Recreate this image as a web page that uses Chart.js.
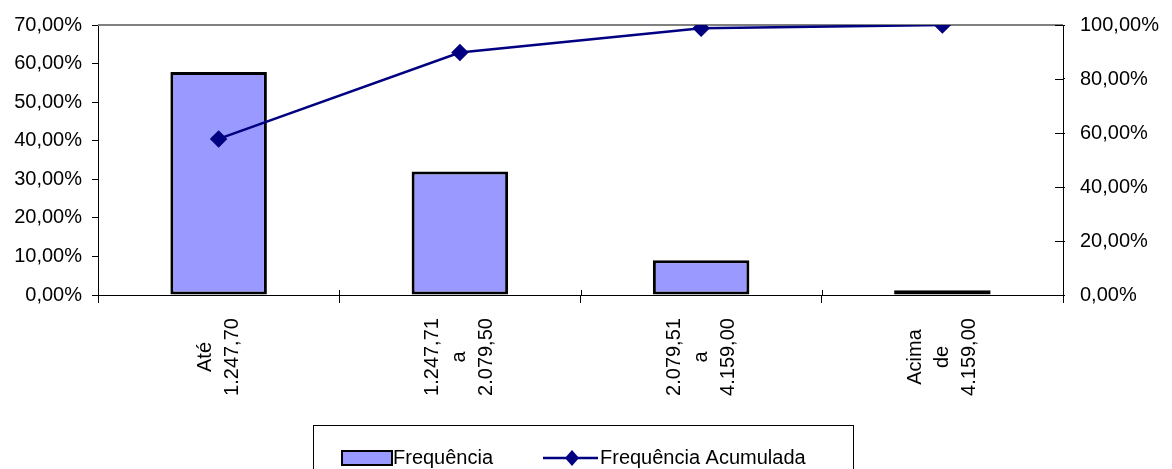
<!DOCTYPE html>
<html>
<head>
<meta charset="utf-8">
<script src="https://cdn.jsdelivr.net/npm/chart.js@4"></script>
<style>
  body { margin: 0; background: #fff; }
  canvas { display: block; }
</style>
</head>
<body>
<canvas id="paretoChart" width="1172" height="469"></canvas>
<script>
  // faixas de valor (eixo X)
  const categorias = [
    ['Até', '1.247,70'],
    ['1.247,71', 'a', '2.079,50'],
    ['2.079,51', 'a', '4.159,00'],
    ['Acima', 'de', '4.159,00']
  ];
  // frequencia relativa (%) - eixo esquerdo
  const frequencia = [57.8, 32.0, 9.0, 1.2];
  // frequencia acumulada (%) - eixo direito
  const acumulada = [57.8, 89.8, 98.8, 100];

  const FONT = '"Liberation Sans", Arial, sans-serif';
  const fmtPct = v => v.toFixed(2).replace('.', ',') + '%';

  // desenha rótulos do eixo X (rotacionados, centralizados), bordas e legenda
  const extras = {
    id: 'extras',
    beforeDatasetsDraw(chart) {
      const { ctx, chartArea: a } = chart;
      ctx.save();
      ctx.strokeStyle = '#808080';
      ctx.lineWidth = 2;
      ctx.beginPath();
      ctx.moveTo(a.left, a.top);
      ctx.lineTo(a.right, a.top);
      ctx.stroke();
      ctx.restore();
    },
    afterDraw(chart) {
      const { ctx, chartArea: a } = chart;
      const x = chart.scales.x;
      const y1 = chart.scales.y1;
      ctx.save();

      // tiques internos
      ctx.strokeStyle = '#000';
      ctx.lineWidth = 1;
      ctx.beginPath();
      for (let i = 0; i <= categorias.length; i++) {
        const px = Math.round(x.getPixelForValue(i - 0.5)) + 0.5;
        ctx.moveTo(px, a.bottom - 5);
        ctx.lineTo(px, a.bottom);
      }
      y1.ticks.forEach(t => {
        const py = Math.round(y1.getPixelForValue(t.value)) + 0.5;
        ctx.moveTo(a.right - 8, py);
        ctx.lineTo(a.right, py);
      });
      ctx.stroke();

      // rótulos das categorias
      ctx.fillStyle = '#000';
      ctx.font = '20px ' + FONT;
      ctx.textAlign = 'center';
      ctx.textBaseline = 'middle';
      const lh = 27;
      categorias.forEach((linhas, i) => {
        const cx = x.getPixelForValue(i);
        const n = linhas.length;
        linhas.forEach((t, j) => {
          const lx = cx + (j - (n - 1) / 2) * lh;
          ctx.save();
          ctx.translate(lx, 357);
          ctx.rotate(-Math.PI / 2);
          ctx.fillText(t, 0, 0);
          ctx.restore();
        });
      });

      // legenda
      const barras = chart.data.datasets.find(d => d.type !== 'line');
      const linha = chart.data.datasets.find(d => d.type === 'line');
      ctx.strokeStyle = '#000';
      ctx.lineWidth = 1;
      ctx.strokeRect(313.5, 425.5, 540, 60);
      const ly = 458;
      ctx.fillStyle = '#9999ff';
      ctx.fillRect(342, 451, 50, 14);
      ctx.lineWidth = 2;
      ctx.strokeRect(342, 451, 50, 14);
      ctx.fillStyle = '#000';
      ctx.textAlign = 'left';
      ctx.fillText(barras.label, 393, ly);

      ctx.strokeStyle = '#000080';
      ctx.lineWidth = 2.5;
      ctx.beginPath();
      ctx.moveTo(543, ly);
      ctx.lineTo(598, ly);
      ctx.stroke();
      ctx.fillStyle = '#000080';
      ctx.beginPath();
      ctx.moveTo(572, ly - 8);
      ctx.lineTo(579, ly);
      ctx.lineTo(572, ly + 8);
      ctx.lineTo(565, ly);
      ctx.closePath();
      ctx.fill();
      ctx.fillStyle = '#000';
      ctx.fillText(linha.label, 600, ly);
      ctx.restore();
    }
  };

  new Chart(document.getElementById('paretoChart'), {
    type: 'bar',
    data: {
      labels: categorias,
      datasets: [
        {
          type: 'line',
          label: 'Frequência Acumulada',
          data: acumulada,
          yAxisID: 'y1',
          borderColor: '#000080',
          backgroundColor: '#000080',
          borderWidth: 2.5,
          pointStyle: 'rectRot',
          pointRadius: 7,
          pointHoverRadius: 7,
          tension: 0,
          order: 0
        },
        {
          type: 'bar',
          label: 'Frequência',
          data: frequencia,
          yAxisID: 'y',
          backgroundColor: '#9999ff',
          borderColor: '#000',
          borderWidth: 3,
          borderSkipped: false,
          barPercentage: 0.4,
          categoryPercentage: 1,
          order: 1
        }
      ]
    },
    options: {
      responsive: false,
      animation: false,
      layout: { padding: { top: 24, left: 0, right: 0, bottom: 0 } },
      plugins: {
        legend: { display: false },
        tooltip: { enabled: false }
      },
      scales: {
        x: {
          offset: true,
          afterFit: s => { s.height = 174; },
          ticks: { display: false },
          grid: {
            offset: true,
            drawOnChartArea: false,
            drawTicks: true,
            tickLength: 8,
            color: '#000'
          },
          border: { display: true, color: '#000', width: 1 }
        },
        y: {
          position: 'left',
          min: 0,
          max: 70,
          afterFit: s => { s.width = 98; },
          ticks: {
            stepSize: 10,
            padding: 10,
            color: '#000',
            font: { family: FONT, size: 20, lineHeight: 1 },
            callback: v => fmtPct(v)
          },
          grid: { drawOnChartArea: false, tickLength: 6, color: '#000' },
          border: { display: true, color: '#000', width: 1 }
        },
        y1: {
          position: 'right',
          min: 0,
          max: 100,
          afterFit: s => { s.width = 109; },
          ticks: {
            stepSize: 20,
            padding: 15,
            color: '#000',
            font: { family: FONT, size: 20, lineHeight: 1 },
            callback: v => fmtPct(v)
          },
          grid: { drawOnChartArea: false, tickLength: 2, color: '#000' },
          border: { display: true, color: '#000', width: 1 }
        }
      }
    },
    plugins: [extras]
  });
</script>
</body>
</html>
